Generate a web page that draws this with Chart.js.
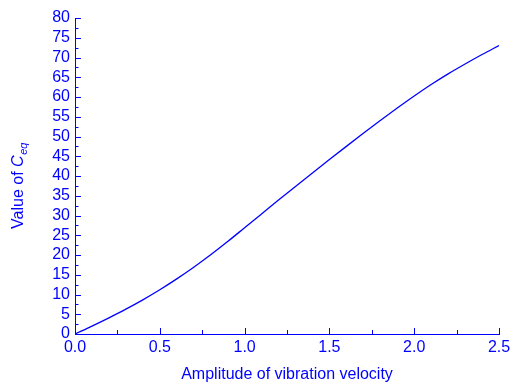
<!DOCTYPE html>
<html>
<head>
<meta charset="utf-8">
<script src="https://cdn.jsdelivr.net/npm/chart.js@4.4.1/dist/chart.umd.min.js"></script>
<style>
  html, body { margin: 0; padding: 0; background: #fff; }
  #wrap { width: 515px; height: 382px; position: relative; }
</style>
</head>
<body>
<div id="wrap"><canvas id="myChart"></canvas></div>
<script>
// amplitude of vibration velocity
const velocity = [0, 0.1, 0.2, 0.3, 0.4, 0.5, 0.6, 0.7, 0.8, 0.9, 1.0, 1.1, 1.2,
  1.3, 1.4, 1.5, 1.6, 1.7, 1.8, 1.9, 2.0, 2.1, 2.2, 2.3, 2.4, 2.5];
// value of C_eq
const ceq = [0, 2.0, 4.1, 6.3, 8.65, 11.2, 13.95, 16.9, 20.05, 23.4, 26.9, 30.4, 33.9,
  37.35, 40.75, 44.15, 47.5, 50.8, 54.05, 57.2, 60.25, 63.15, 65.85, 68.35, 70.75, 73.05];

const yTicks = [0, 80, 5];      // min, max, step
const xTicks = [0, 2.5, 0.5];

const blue = '#0000ff';
const font = 'Arial, "Liberation Sans", sans-serif';

// inward tick marks + rotated y title with subscript
const axisDeco = {
  id: 'axisDeco',
  afterDraw(c) {
    const ctx = c.ctx;
    const xs = c.scales.x;
    const ys = c.scales.y;
    const area = c.chartArea;
    ctx.save();
    ctx.strokeStyle = blue;
    ctx.lineWidth = 1;
    ctx.beginPath();
    for (let v = yTicks[0]; v <= yTicks[1] + 1e-9; v += yTicks[2] / 2) {
      const py = Math.round(ys.getPixelForValue(v)) + 0.5;
      const len = Math.abs(v % yTicks[2]) < 1e-9 ? 6 : 3.5;
      ctx.moveTo(area.left, py);
      ctx.lineTo(area.left + len, py);
    }
    for (let v = xTicks[0]; v <= xTicks[1] + 1e-9; v += xTicks[2] / 2) {
      const px = Math.round(xs.getPixelForValue(v)) + 0.5;
      const major = Math.abs(v / xTicks[2] - Math.round(v / xTicks[2])) < 1e-6;
      const len = major ? 6 : 4;
      ctx.moveTo(px, area.bottom);
      ctx.lineTo(px, area.bottom - len);
    }
    ctx.stroke();

    // y axis title: Value of C_eq
    const cy = (area.top + area.bottom) / 2 + 10;
    ctx.translate(19, cy);
    ctx.rotate(-Math.PI / 2);
    ctx.fillStyle = blue;
    ctx.textBaseline = 'middle';
    const f1 = '16px ' + font;
    const f2 = 'italic 16px ' + font;
    const f3 = 'italic 11px ' + font;
    ctx.font = f1; const w1 = ctx.measureText('Value of ').width;
    ctx.font = f2; const w2 = ctx.measureText('C').width;
    ctx.font = f3; const w3 = ctx.measureText('eq').width;
    let x0 = -(w1 + w2 + w3) / 2;
    ctx.font = f1; ctx.fillText('Value of ', x0, 0); x0 += w1;
    ctx.font = f2; ctx.fillText('C', x0, 0); x0 += w2;
    ctx.font = f3; ctx.fillText('eq', x0 + 0.5, 5);
    ctx.restore();
  }
};

const points = velocity.map(function(v, i) {
  return { x: v, y: ceq[i] };
});

const ctx = document.getElementById('myChart').getContext('2d');
const chart = new Chart(ctx, {
  type: 'line',
  data: {
    datasets: [{
      data: points,
      borderColor: blue,
      borderWidth: 1.3,
      pointRadius: 0,
      cubicInterpolationMode: 'monotone',
      fill: false
    }]
  },
  options: {
    responsive: true,
    maintainAspectRatio: false,
    animation: false,
    layout: { padding: { top: 18, right: 16, left: 0, bottom: 0 } },
    plugins: {
      legend: { display: false },
      tooltip: { enabled: false }
    },
    scales: {
      x: {
        type: 'linear',
        min: xTicks[0],
        max: xTicks[1],
        grid: { display: false, drawTicks: false },
        border: { display: true, color: blue, width: 1 },
        ticks: {
          stepSize: xTicks[2],
          color: blue,
          padding: 4,
          font: { size: 16, family: font },
          maxRotation: 0,
          callback: function(v) { return Number(v).toFixed(1); }
        },
        title: {
          display: true,
          text: 'Amplitude of vibration velocity',
          color: blue,
          font: { size: 16, family: font },
          padding: { top: 2, bottom: -2 }
        },
        afterFit: function(s) { s.height = 48; }
      },
      y: {
        min: yTicks[0],
        max: yTicks[1],
        grid: { display: false, drawTicks: false },
        border: { display: true, color: blue, width: 1 },
        ticks: {
          stepSize: yTicks[2],
          autoSkip: false,
          color: blue,
          padding: 5,
          font: { size: 16, family: font }
        },
        afterFit: function(s) { s.width = 75; }
      }
    }
  },
  plugins: [axisDeco]
});
</script>
</body>
</html>
